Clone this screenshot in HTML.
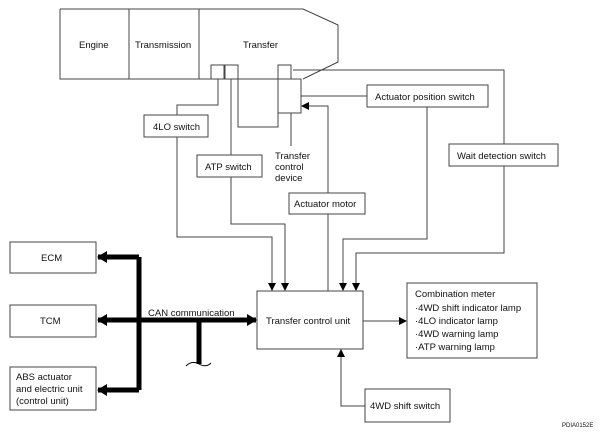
<!DOCTYPE html>
<html><head><style>body{margin:0;background:#fff}svg{display:block}text{font-family:"Liberation Sans",Arial,sans-serif;font-size:9.5px;fill:#111}</style></head><body>
<svg width="602" height="440" viewBox="0 0 602 440">
<defs><marker id="a" markerWidth="8" markerHeight="8" refX="7" refY="4" orient="auto" markerUnits="userSpaceOnUse"><path d="M0,0L8,4L0,8z" fill="#000"/></marker>
<marker id="b" markerWidth="10" markerHeight="12" refX="9" refY="6" orient="auto" markerUnits="userSpaceOnUse"><path d="M0,0L10,6L0,12z" fill="#000"/></marker></defs>
<g fill="none" stroke="#444" stroke-width="1">
<path d="M60,9H303L338,25V62L303,79M278,79H60V9"/>
<path d="M129,9V79M199,9V79"/>
<rect x="211" y="65" width="13" height="14" fill="#fff"/><rect x="225" y="65" width="13" height="14" fill="#fff"/>
<rect x="278" y="65" width="13" height="14"/><rect x="278" y="79" width="23" height="34"/>
<path d="M293,70H504V144"/>
<path d="M218,79V105H177V115"/><rect x="144" y="115" width="64" height="22"/>
<path d="M231,79V155"/><rect x="197" y="155" width="65" height="22"/>
<path d="M238,79V127H278V113"/>
<path d="M291,113V146"/>
<path d="M301,96H367"/><rect x="367" y="85" width="121" height="22"/>
<rect x="289" y="193" width="76" height="21"/>
<path d="M328,193V106H302" marker-end="url(#a)"/>
<path d="M328,214V291"/>
<rect x="449" y="144" width="109" height="22"/>
<path d="M177,137V237H272V290" marker-end="url(#a)"/>
<path d="M231,177V224H285V290" marker-end="url(#a)"/>
<path d="M427,107V239H343V290" marker-end="url(#a)"/>
<path d="M504,166V253H356V290" marker-end="url(#a)"/>
<rect x="257" y="291" width="106" height="58"/>
<path d="M363,321H406" marker-end="url(#a)"/>
<rect x="407" y="283" width="130" height="75"/>
<rect x="365" y="389" width="85" height="33"/>
<path d="M365,406H341V350" marker-end="url(#a)"/>
<rect x="10" y="242" width="86" height="31"/><rect x="10" y="305" width="86" height="32"/><rect x="10" y="367" width="86" height="43"/>
</g>
<g fill="none" stroke="#000" stroke-width="5">
<path d="M139,257V390"/>
<path d="M139,257H98" marker-end="url(#b)"/>
<path d="M139,320H98" marker-end="url(#b)"/>
<path d="M139,390H98" marker-end="url(#b)"/>
<path d="M139,320H256" marker-end="url(#b)"/>
<path d="M199,320V364"/>
</g>
<path d="M186,366Q192,360 199,364T211,363" fill="none" stroke="#000" stroke-width="1"/>
<text x="79" y="48">Engine</text><text x="135" y="48">Transmission</text><text x="243" y="48">Transfer</text>
<text x="153" y="130">4LO switch</text><text x="205" y="170">ATP switch</text>
<text x="275" y="159">Transfer</text><text x="275" y="170">control</text><text x="275" y="181">device</text>
<text x="375" y="100">Actuator position switch</text>
<text x="294" y="207">Actuator motor</text>
<text x="457" y="159">Wait detection switch</text>
<text x="266" y="324">Transfer control unit</text>
<text x="148" y="316">CAN communication</text>
<text x="415" y="297">Combination meter</text>
<text x="415" y="311">·4WD shift indicator lamp</text>
<text x="415" y="324">·4LO indicator lamp</text>
<text x="415" y="337">·4WD warning lamp</text>
<text x="415" y="350">·ATP warning lamp</text>
<text x="370" y="409">4WD shift switch</text>
<text x="41" y="261">ECM</text><text x="40" y="324">TCM</text>
<text x="16" y="380">ABS actuator</text><text x="16" y="392">and electric unit</text><text x="16" y="404">(control unit)</text>
<text x="562" y="427" style="font-size:6px">PDIA0152E</text>
</svg></body></html>
